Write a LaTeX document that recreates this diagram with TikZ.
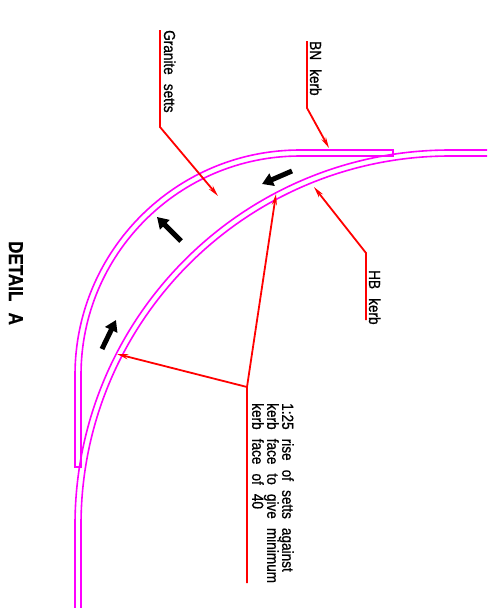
\documentclass[tikz,border=0pt]{standalone}
\usepackage{fontspec}
\setmainfont[WordSpace=2.4,FakeStretch=0.85,FakeBold=0.8]{Liberation Sans}
\usetikzlibrary{arrows.meta}
\definecolor{kerbpink}{RGB}{255,0,255}
\tikzset{
  kerb/.style={draw=kerbpink,line width=1.6pt},
  leader/.style={draw=red,line width=1.8pt},
  tipped/.style={leader,-{Stealth[length=11pt,width=5pt,red]}},
  flow/.style={draw=black,line width=5pt,-{Triangle[length=11pt,width=13pt,black]}},
  lbl/.style={rotate=-90,inner sep=0pt,font=\fontsize{16}{15}\selectfont}
}
\begin{document}
\begin{tikzpicture}[x=1pt,y=-1pt]
  \useasboundingbox (0,0) rectangle (494,608);
  % kerb lines
  \draw[kerb] (393,150) -- (300,150) arc[start angle=-90,end angle=-180,radius=225] -- (75,467)
    -- (81,467) -- (81,375) arc[start angle=-180,end angle=-90,radius=219] -- (393,156) -- cycle;
  \draw[kerb] (487,150) -- (450,150) arc[start angle=-90,end angle=-180,radius=375] -- (75,608);
  \draw[kerb] (487,156) -- (450,156) arc[start angle=-90,end angle=-180,radius=369] -- (81,608);
  % fall arrows
  \coordinate (a1) at (292,171);
  \coordinate (a2) at (262,184);
  \coordinate (b1) at (181,241);
  \coordinate (b2) at (157,217);
  \coordinate (c1) at (102,349);
  \coordinate (c2) at (116,320);
  \draw[flow] (a1) to (a2);
  \draw[flow] (b1) to (b2);
  \draw[flow] (c1) to (c2);
  % labels
  \node[lbl,anchor=base west] (setts) at (164,30) {Granite setts};
  \node[lbl,anchor=base west] (bn) at (310,41) {BN kerb};
  \node[lbl,anchor=base west] (hb) at (369,270) {HB kerb};
  \node[lbl,anchor=north west,align=left] (rise) at (294,403)
    {1:25 rise of setts against\\kerb face to give minimum\\kerb face of 40};
  \node[rotate=-90,anchor=base west,inner sep=0pt,font=\fontsize{20}{20}\selectfont\bfseries] (detail) at (9,241) {DETAIL A};
  % leaders
  \coordinate (s0) at (160,30);
  \coordinate (s1) at (160,127);
  \coordinate (s2) at (218,196);
  \coordinate (n0) at (307,41);
  \coordinate (n1) at (307,108);
  \coordinate (n2) at (329,148);
  \coordinate (h0) at (366,320);
  \coordinate (h1) at (366,253);
  \coordinate (h2) at (314,187);
  \coordinate (r0) at (247,583);
  \coordinate (r1) at (247,387);
  \coordinate (r2) at (276,194);
  \coordinate (r3) at (117,354);
  \draw[tipped] (s0) -- (s1) -- (s2);
  \draw[tipped] (n0) -- (n1) -- (n2);
  \draw[tipped] (h0) -- (h1) -- (h2);
  \draw[tipped] (r0) -- (r1) -- (r2);
  \draw[tipped] (r1) -- (r3);
\end{tikzpicture}
\end{document}
